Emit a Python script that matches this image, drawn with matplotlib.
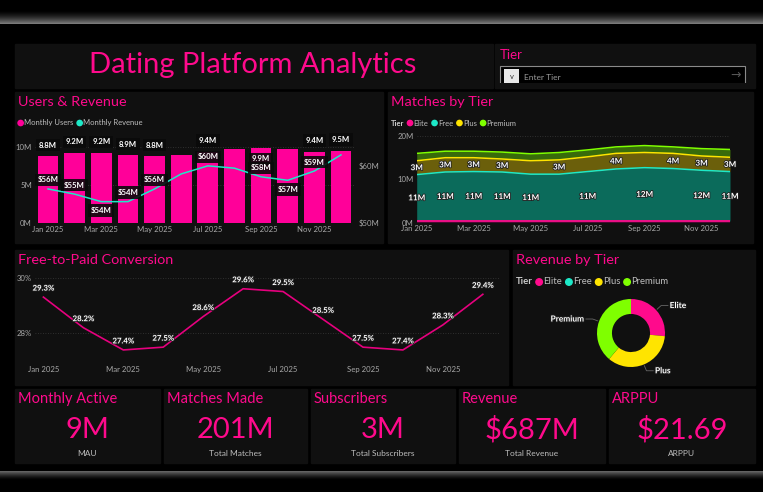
import matplotlib
matplotlib.use('Agg')
import matplotlib.pyplot as plt
import numpy as np
from matplotlib.patches import Rectangle, Circle
import matplotlib.patheffects as pe

plt.rcParams['font.family'] = ['Lato', 'DejaVu Sans']

# ---------------- data ----------------
months = ['Jan 2025', 'Feb 2025', 'Mar 2025', 'Apr 2025', 'May 2025', 'Jun 2025',
          'Jul 2025', 'Aug 2025', 'Sep 2025', 'Oct 2025', 'Nov 2025', 'Dec 2025']
tick_idx = [0, 2, 4, 6, 8, 10]

users_m = [8.8, 9.2, 9.2, 8.9, 8.8, 8.95, 9.4, 9.8, 9.9, 9.7, 9.4, 9.5]
revenue_m = [55.9, 55.0, 53.7, 53.7, 55.9, 58.5, 59.9, 59.5, 58.0, 57.4, 59.0, 61.8]
users_label_idx = [0, 1, 2, 3, 4, 6, 8, 10, 11]
revenue_label_idx = [0, 1, 2, 3, 4, 6, 8, 9, 10]

tiers = ['Elite', 'Free', 'Plus', 'Premium']
elite_m = [0.4, 0.4, 0.4, 0.4, 0.4, 0.4, 0.4, 0.4, 0.4, 0.4, 0.4, 0.4]
free_m = [10.7, 11.3, 11.4, 11.3, 10.8, 10.8, 11.4, 12.0, 12.3, 12.1, 11.7, 11.4]
plus_m = [3.2, 3.3, 3.2, 3.0, 3.1, 3.3, 3.4, 3.6, 3.5, 3.5, 3.3, 3.3]
premium_m = [1.7, 1.5, 1.5, 1.6, 1.6, 1.7, 1.6, 1.5, 1.6, 1.5, 1.7, 1.8]
free_label_idx = [0, 1, 2, 3, 4, 6, 8, 10, 11]
plus_label_idx = [0, 1, 2, 3, 5, 7, 9, 10, 11]

conversion_pct = [29.3, 28.2, 27.4, 27.5, 28.6, 29.6, 29.5, 28.5, 27.5, 27.4, 28.3, 29.4]

revenue_by_tier = [182, 0, 238, 267]

kpi_titles = ['Monthly Active', 'Matches Made', 'Subscribers', 'Revenue', 'ARPPU']
kpi_values = ['9M', '201M', '3M', '$687M', '$21.69']
kpi_subs = ['MAU', 'Total Matches', 'Total Subscribers', 'Total Revenue', 'ARPPU']

# ---------------- style ----------------
PINK = '#FF0A8C'
BAR = '#FF0099'
TEAL = '#1DE9C8'
YELLOW = '#FFE400'
GREEN = '#7FFF00'
PANEL = '#101010'
TICK = '#a8a8a8'
tier_colors = [PINK, TEAL, YELLOW, GREEN]

W, H = 763, 492
fig = plt.figure(figsize=(W / 100, H / 100), dpi=100, facecolor='black')
renderer = fig.canvas.get_renderer()

bg = fig.add_axes([0, 0, 1, 1])
bg.set_xlim(0, W)
bg.set_ylim(H, 0)
bg.axis('off')
bg.set_facecolor('black')
bg.add_patch(Rectangle((0, 0), W, H, color='black', zorder=0))

# top and bottom bands (gradients)
top_grad = np.linspace(0, 1, 50).reshape(-1, 1) ** 1.6
bg.imshow(top_grad, extent=(0, W, 24, 10), cmap='gray', vmin=0, vmax=2.0,
          aspect='auto', zorder=1)
bot_grad = np.linspace(1, 0, 50).reshape(-1, 1) ** 1.4
bg.imshow(bot_grad, extent=(0, W, 480, 471), cmap='gray', vmin=0, vmax=2.4,
          aspect='auto', zorder=1)
bg.set_xlim(0, W)
bg.set_ylim(H, 0)


def panel(x0, y0, x1, y1):
    bg.add_patch(Rectangle((x0, y0), x1 - x0, y1 - y0, color=PANEL, zorder=2))


def px_axes(x0, y0, x1, y1):
    ax = fig.add_axes([x0 / W, 1 - y1 / H, (x1 - x0) / W, (y1 - y0) / H])
    ax.set_facecolor('none')
    return ax


def text_width(t):
    return t.get_window_extent(renderer=renderer).width


panels = [(15, 44, 493, 88), (495, 44, 755, 88),
          (15, 92, 383, 243), (388, 92, 753, 243),
          (15, 250, 508, 385), (513, 250, 755, 385),
          (15, 389, 160, 463), (164, 389, 307, 463), (311, 389, 455, 463),
          (459, 389, 605, 463), (609, 389, 755, 463)]
for p in panels:
    panel(*p)

# title
bg.text(253, 65, 'Dating Platform Analytics', color=PINK, fontsize=21,
        ha='center', va='center', zorder=5)

# slicer
bg.text(500, 55, 'Tier', color=PINK, fontsize=9.5, ha='left', va='center', zorder=5)
bg.add_patch(Rectangle((500, 66), 245, 20, fc='black', ec='#8a8a8a', lw=0.8, zorder=3))
bg.add_patch(Rectangle((495, 83), 260, 6, fc=PANEL, ec='none', zorder=4))
bg.add_patch(Rectangle((504, 69), 15, 14, fc='#e8e8e8', ec='none', zorder=5))
bg.text(511.5, 76.5, 'v', color='#333333', fontsize=5.5, ha='center', va='center', zorder=6)
bg.text(524, 77, 'Enter Tier', color='#9a9a9a', fontsize=6, ha='left', va='center', zorder=6)
bg.text(736, 75, '→', color='#555555', fontsize=9, ha='center', va='center', zorder=6,
        family=['DejaVu Sans'])

# panel titles
for (x, y, t) in [(18, 102, 'Users & Revenue'), (391, 102, 'Matches by Tier'),
                  (18, 260, 'Free-to-Paid Conversion'), (516, 260, 'Revenue by Tier')]:
    bg.text(x, y, t, color=PINK, fontsize=10.4, ha='left', va='center', zorder=5)


def legend_row(x, y, items, colors, fs, title=None):
    cx = x
    r = fs * 0.48
    if title:
        t = bg.text(cx, y, title, color='#cccccc', fontsize=fs, fontweight='bold',
                    ha='left', va='center', zorder=5)
        cx += text_width(t) + 3
    for it, c in zip(items, colors):
        bg.add_patch(Circle((cx + r, y), r, color=c, zorder=5))
        cx += 2 * r + 1
        t = bg.text(cx, y, it, color='#bdbdbd', fontsize=fs, ha='left', va='center',
                    zorder=5)
        cx += text_width(t) + 3.5


legend_row(18, 123, ['Monthly Users', 'Monthly Revenue'], [BAR, TEAL], 5.5)
legend_row(391, 123, tiers, tier_colors, 5.5, title='Tier')
legend_row(516, 282, tiers, tier_colors, 6.8, title='Tier')

# ---------------- Users & Revenue ----------------
x = np.arange(len(months))
ax1 = px_axes(34.7, 131.8, 354.3, 223)
ax1.bar(x, users_m, width=0.78, color=BAR, zorder=2)
ax1.set_xlim(-0.5, 11.5)
ax1.set_ylim(0, 12)
ax1.set_yticks([0, 5, 10])
ax1.set_yticklabels(['0M', '5M', '10M'])
ax1.set_xticks(tick_idx)
ax1.set_xticklabels([months[i] for i in tick_idx])
for s in ax1.spines.values():
    s.set_visible(False)
ax1.tick_params(length=0, colors=TICK, labelsize=5.6, pad=2)
ax1.grid(axis='y', color='#3a3a3a', linestyle=(0, (1, 2)), lw=0.6, zorder=0)
ax1.set_axisbelow(True)
ax1b = ax1.twinx()
ax1b.plot(x, revenue_m, color=TEAL, lw=1.1, zorder=3)
ax1b.set_ylim(50, 65.8)
ax1b.set_yticks([50, 60])
ax1b.set_yticklabels(['$50M', '$60M'])
for s in ax1b.spines.values():
    s.set_visible(False)
ax1b.tick_params(length=0, colors=TICK, labelsize=5.6, pad=3)

lbl_box = dict(boxstyle='square,pad=0.35', fc='#0a0a0a', ec='none', alpha=0.9)
for i in users_label_idx:
    off = -8 if i == 8 else 8
    ax1.annotate(f'{users_m[i]:.1f}M', (x[i], users_m[i]), xytext=(0, off),
                 textcoords='offset points', ha='center', va='center', color='white',
                 fontsize=5.6, fontweight='bold', bbox=lbl_box, zorder=6)
rev_below = {2, 9}
for i in revenue_label_idx:
    off = -6.5 if i in rev_below else 6.5
    ax1b.annotate(f'${revenue_m[i]:.0f}M', (x[i], revenue_m[i]), xytext=(0, off),
                  textcoords='offset points', ha='center', va='center', color='white',
                  fontsize=5.6, fontweight='bold', bbox=lbl_box, zorder=6)

# ---------------- Matches by Tier ----------------
ax2 = px_axes(416.7, 133, 730, 222.7)
e = np.array(elite_m)
f = e + np.array(free_m)
p = f + np.array(plus_m)
pr = p + np.array(premium_m)
ax2.fill_between(x, 0, e, color='#4a0a30', lw=0, zorder=2)
ax2.fill_between(x, e, f, color='#0B6B5B', lw=0, zorder=2)
ax2.fill_between(x, f, p, color='#6B5F0B', lw=0, zorder=2)
ax2.fill_between(x, p, pr, color='#386B0B', lw=0, zorder=2)
ax2.plot(x, e, color=PINK, lw=1.3, zorder=3)
ax2.plot(x, f, color=TEAL, lw=1.1, zorder=3)
ax2.plot(x, p, color=YELLOW, lw=1.1, zorder=3)
ax2.plot(x, pr, color=GREEN, lw=1.1, zorder=3)
ax2.set_xlim(0, 11)
ax2.set_ylim(0, 20.7)
ax2.set_yticks([0, 10, 20])
ax2.set_yticklabels(['0M', '10M', '20M'])
ax2.set_xticks(tick_idx)
ax2.set_xticklabels([months[i] for i in tick_idx])
for s in ax2.spines.values():
    s.set_visible(False)
ax2.tick_params(length=0, colors=TICK, labelsize=5.6, pad=2)
ax2.grid(axis='y', color='#3a3a3a', linestyle=(0, (1, 2)), lw=0.6, zorder=0)
ax2.set_axisbelow(True)
stroke = [pe.withStroke(linewidth=1.2, foreground='#202020')]
for i in free_label_idx:
    ax2.text(x[i], e[i] + free_m[i] / 2, f'{free_m[i]:.0f}M', color='white',
             fontsize=5.8, fontweight='bold', ha='center', va='center', zorder=5,
             path_effects=stroke)
for i in plus_label_idx:
    ax2.text(x[i], f[i] + plus_m[i] / 2, f'{plus_m[i]:.0f}M', color='white',
             fontsize=5.8, fontweight='bold', ha='center', va='center', zorder=5,
             path_effects=stroke)

# ---------------- Conversion ----------------
ax3 = px_axes(35, 274, 500, 358)
ax3.plot(x, conversion_pct, color='#E6007E', lw=1.2, zorder=3)
ax3.set_xlim(-0.21, 11.43)
ax3.set_ylim(27.11, 30.13)
ax3.set_yticks([28, 30])
ax3.set_yticklabels(['28%', '30%'])
ax3.set_xticks(tick_idx)
ax3.set_xticklabels([months[i] for i in tick_idx])
for s in ax3.spines.values():
    s.set_visible(False)
ax3.tick_params(axis='y', length=0, colors=TICK, labelsize=5.6, pad=2)
ax3.tick_params(axis='x', length=0, colors=TICK, labelsize=5.6, pad=6)
ax3.grid(axis='y', color='#3a3a3a', linestyle=(0, (1, 2)), lw=0.6, zorder=0)
ax3.set_axisbelow(True)
for i, v in enumerate(conversion_pct):
    ax3.annotate(f'{v:.1f}%', (x[i], v), xytext=(0, 6.5), textcoords='offset points',
                 ha='center', va='center', color='white', fontsize=5.6,
                 fontweight='bold', path_effects=stroke, zorder=5)

# ---------------- Revenue by Tier (donut) ----------------
ax4 = px_axes(581, 283, 681, 383)
ax4.pie(revenue_by_tier, colors=tier_colors, startangle=90, counterclock=False,
        radius=1, wedgeprops=dict(width=0.44, edgecolor='none'))
ax4.set_xlim(-50 / 34, 50 / 34)
ax4.set_ylim(-50 / 34, 50 / 34)
ax4.set_aspect('equal')
ax4.axis('off')
total = float(sum(revenue_by_tier))
cum = 0.0
for name, v in zip(tiers, revenue_by_tier):
    if v <= 0:
        continue
    mid = (cum + v / 2) / total
    cum += v
    ang = np.deg2rad(90 - 360 * mid)
    ux, uy = np.cos(ang), np.sin(ang)
    p1 = (1.04 * ux, 1.04 * uy)
    p2 = (1.2 * ux, 1.2 * uy)
    sgn = 1 if ux >= 0 else -1
    p3 = (p2[0] + sgn * 0.2, p2[1])
    ax4.plot([p1[0], p2[0], p3[0]], [p1[1], p2[1], p3[1]], color='#666666', lw=0.6,
             clip_on=False)
    ax4.text(p3[0] + sgn * 0.05, p3[1], name, color='white', fontsize=6,
             fontweight='bold', ha='left' if sgn > 0 else 'right', va='center',
             path_effects=stroke, clip_on=False)

# ---------------- KPI cards ----------------
cards = [(15, 160), (164, 307), (311, 455), (459, 605), (609, 755)]
for (x0, x1), t, v, s in zip(cards, kpi_titles, kpi_values, kpi_subs):
    cx = (x0 + x1) / 2
    bg.text(x0 + 3, 399, t, color=PINK, fontsize=10.5, ha='left', va='center', zorder=5)
    bg.text(cx, 430, v, color=PINK, fontsize=21, ha='center', va='center', zorder=5)
    bg.text(cx, 454, s, color='#bdbdbd', fontsize=6, ha='center', va='center', zorder=5)

fig.savefig('out.png', dpi=100, facecolor='black')
